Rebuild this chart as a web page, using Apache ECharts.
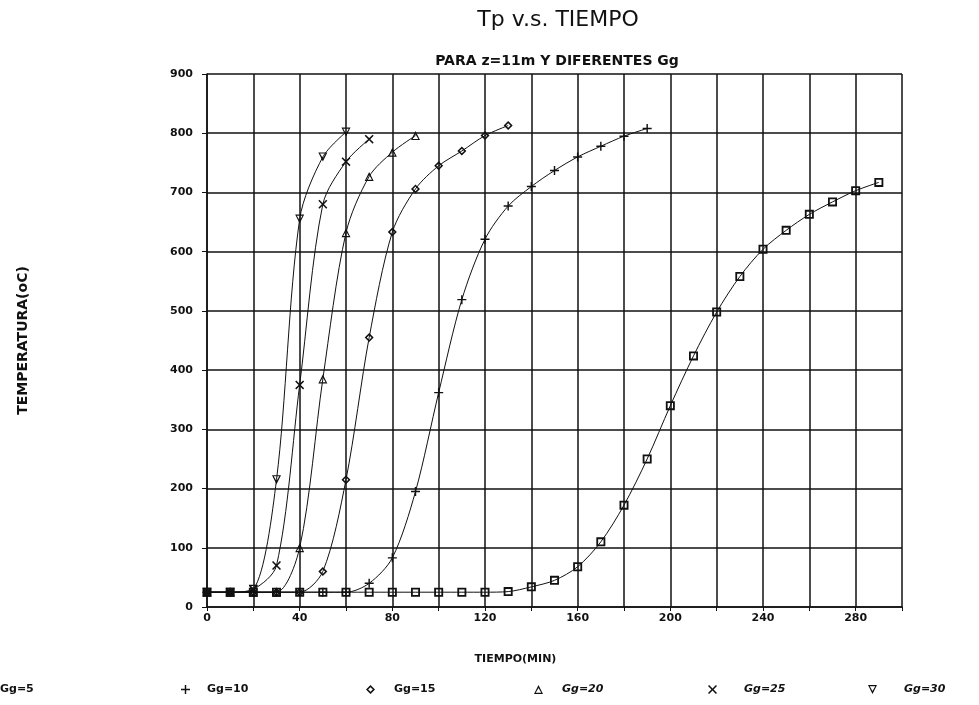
<!DOCTYPE html>
<html>
<head>
<meta charset="utf-8">
<script src="https://cdn.jsdelivr.net/npm/echarts@6/dist/echarts.min.js"></script>
<style>
  html, body { margin: 0; padding: 0; background: #fff; }
  #chart { width: 979px; height: 705px; }
</style>
</head>
<body>
<div id="chart"></div>
<script>
// Tp v.s. TIEMPO, z = 11m, varios Gg

// tiempos (min) y temperaturas (oC)
let gg5_t = [0, 10, 20, 30, 40, 50, 60, 70, 80, 90, 100, 110, 120, 130, 140, 150, 160, 170, 180, 190, 200, 210, 220, 230, 240, 250, 260, 270, 280, 290];
let gg5_T = [25, 25, 25, 25, 25, 25, 25, 25, 25, 25, 25, 25, 25, 26, 34, 45, 68, 110, 172, 250, 340, 424, 498, 558, 604, 636, 663, 684, 703, 717];

let gg10_t = [0, 10, 20, 30, 40, 50, 60, 70, 80, 90, 100, 110, 120, 130, 140, 150, 160, 170, 180, 190];
let gg10_T = [25, 25, 25, 25, 25, 25, 25, 40, 83, 195, 362, 519, 621, 677, 710, 737, 760, 778, 795, 808];

let gg15_t = [0, 10, 20, 30, 40, 50, 60, 70, 80, 90, 100, 110, 120, 130];
let gg15_T = [25, 25, 25, 25, 25, 60, 215, 455, 633, 706, 745, 770, 796, 813];

let gg20_t = [0, 10, 20, 30, 40, 50, 60, 70, 80, 90];
let gg20_T = [25, 25, 25, 25, 100, 385, 632, 727, 768, 796];

let gg25_t = [0, 10, 20, 30, 40, 50, 60, 70];
let gg25_T = [25, 25, 30, 70, 375, 680, 752, 790];

let gg30_t = [0, 10, 20, 30, 40, 50, 60];
let gg30_T = [25, 25, 30, 215, 655, 760, 802];

let series_names = ['Gg=5', 'Gg=10', 'Gg=15', 'Gg=20', 'Gg=25', 'Gg=30'];

// simbolos huecos (contorno con agujero)
let sym_square = 'path://M0,0H10V10H0Z M2,2V8H8V2Z';
let sym_plus = 'path://M4.2,0H5.8V4.2H10V5.8H5.8V10H4.2V5.8H0V4.2H4.2Z';
let sym_diamond = 'path://M5,0L10,5L5,10L0,5Z M5,2.4L2.4,5L5,7.6L7.6,5Z';
let sym_tri = 'path://M5,0L10,10L0,10Z M5,3.4L1.9,8.7L8.1,8.7Z';
let sym_cross = 'path://M1.2,0L5,3.8L8.8,0L10,1.2L6.2,5L10,8.8L8.8,10L5,6.2L1.2,10L0,8.8L3.8,5L0,1.2Z';
let sym_down = 'path://M0,0L10,0L5,10Z M1.9,1.3L5,6.6L8.1,1.3Z';
let symbols = [sym_square, sym_plus, sym_diamond, sym_tri, sym_cross, sym_down];

function zip(t, T) {
    return t.map(function (v, i) { return [v, T[i]]; });
}
let all_data = [
    zip(gg5_t, gg5_T),
    zip(gg10_t, gg10_T),
    zip(gg15_t, gg15_T),
    zip(gg20_t, gg20_T),
    zip(gg25_t, gg25_T),
    zip(gg30_t, gg30_T),
];

// posicion horizontal de cada entrada de la leyenda y hueco hasta el texto
let legend_left = [-19, 176, 361, 529, 703, 863];
let legend_pad = [0, 12, 14, 14, 22, 22];

let font = 'DejaVu Sans';

let myChart = echarts.init(document.getElementById('chart'));

let option = {
    animation: false,
    backgroundColor: '#fff',
    title: [
        {
            text: 'Tp v.s. TIEMPO',
            left: 553,
            top: 4,
            textAlign: 'center',
            textStyle: { fontFamily: font, fontSize: 22, fontWeight: 'normal', color: '#111' },
        },
        {
            text: 'PARA z=11m Y DIFERENTES Gg',
            left: 552,
            top: 49,
            textAlign: 'center',
            textStyle: { fontFamily: font, fontSize: 14, fontWeight: 'bold', color: '#111' },
        },
    ],
    legend: series_names.map(function (name, i) {
        return {
            left: legend_left[i],
            top: 679,
            itemWidth: 9,
            itemHeight: 9,
            itemGap: 0,
            selectedMode: false,
            data: [{ name: name, icon: symbols[i] }],
            itemStyle: { color: '#111', borderWidth: 0 },
            textStyle: {
                fontFamily: font, fontSize: 11, fontWeight: 'bold',
                fontStyle: i >= 3 ? 'italic' : 'normal', color: '#111',
                padding: [0, 0, 0, legend_pad[i]],
            },
        };
    }),
    grid: {
        left: 207,
        right: 77,
        top: 74,
        bottom: 98,
    },
    xAxis: {
        type: 'value',
        min: 0,
        max: 300,
        interval: 20,
        name: 'TIEMPO(MIN)',
        nameLocation: 'middle',
        nameGap: 47,
        nameTextStyle: {
            fontFamily: font, fontSize: 11, fontWeight: 'bold', color: '#111',
            padding: [0, 78, 0, 0],
        },
        axisLine: { show: true, lineStyle: { color: '#111', width: 1.5 } },
        axisTick: { show: true, length: 4, lineStyle: { color: '#111' } },
        axisLabel: {
            margin: 6,
            fontFamily: font, fontSize: 11, fontWeight: 'bold', color: '#111',
            formatter: function (v) {
                return (v % 40 === 0 && v < 300) ? String(v) : '';
            },
        },
        splitLine: { show: true, lineStyle: { color: '#111', width: 1.5 } },
    },
    yAxis: {
        type: 'value',
        min: 0,
        max: 900,
        interval: 100,
        name: 'TEMPERATURA(oC)',
        nameLocation: 'middle',
        nameGap: 177,
        nameRotate: 90,
        nameTextStyle: { fontFamily: font, fontSize: 14, fontWeight: 'bold', color: '#111' },
        axisLine: { show: true, lineStyle: { color: '#111', width: 1.5 } },
        axisTick: { show: true, length: 5, lineStyle: { color: '#111' } },
        axisLabel: {
            margin: 14,
            fontFamily: font, fontSize: 11, fontWeight: 'bold', color: '#111',
        },
        splitLine: { show: true, lineStyle: { color: '#111', width: 1.5 } },
    },
    series: series_names.map(function (name, i) {
        return {
            name: name,
            type: 'line',
            data: all_data[i],
            smooth: 0.3,
            symbol: symbols[i],
            symbolSize: 9,
            showAllSymbol: true,
            lineStyle: { color: '#111', width: 1 },
            itemStyle: { color: '#111', borderWidth: 0 },
            z: 3,
        };
    }),
};

myChart.setOption(option);
</script>
</body>
</html>
